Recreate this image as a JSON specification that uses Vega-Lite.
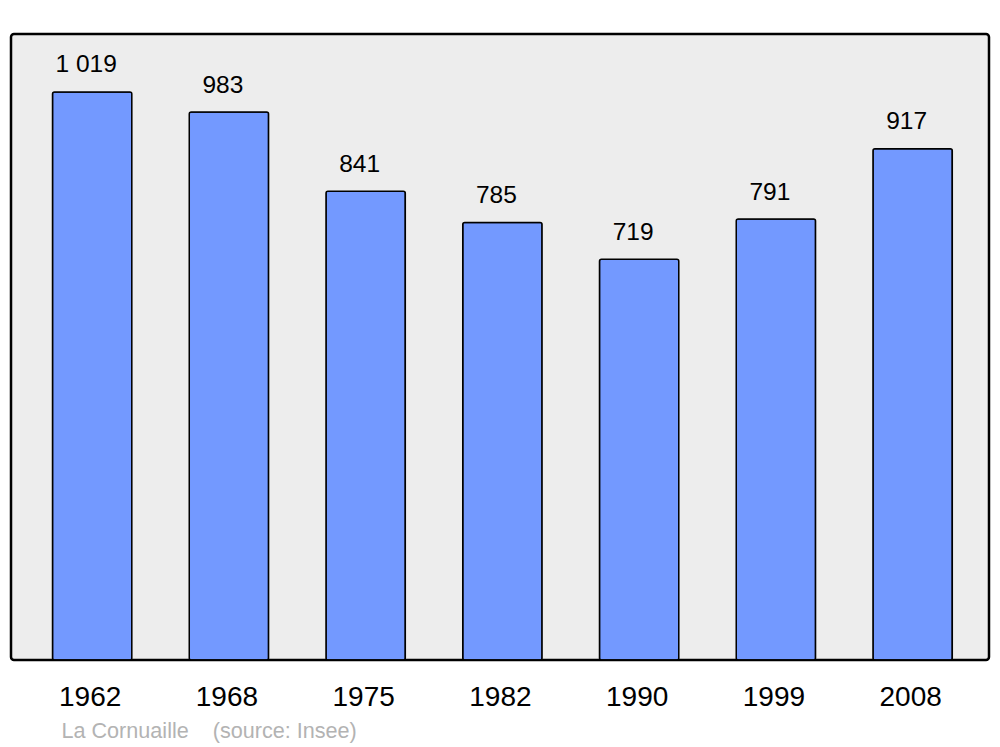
{
  "$schema": "https://vega.github.io/schema/vega-lite/v6.json",
  "autosize": "none",
  "width": 978,
  "height": 626,
  "padding": {"left": 11, "top": 34, "right": 11, "bottom": 87},
  "background": "white",
  "config": {
    "font": "Liberation Sans",
    "view": {"fill": "#ededed", "stroke": "black", "strokeWidth": 2.5, "cornerRadius": 3},
    "locale": {"number": {"decimal": ",", "thousands": " ", "grouping": [3], "currency": ["", " €"]}}
  },
  "data": {
    "values": [
      {"year": "1962", "population": 1019},
      {"year": "1968", "population": 983},
      {"year": "1975", "population": 841},
      {"year": "1982", "population": 785},
      {"year": "1990", "population": 719},
      {"year": "1999", "population": 791},
      {"year": "2008", "population": 917}
    ]
  },
  "encoding": {
    "x": {
      "field": "year",
      "type": "nominal",
      "sort": null,
      "scale": {"paddingInner": 0.42, "paddingOuter": 0.286, "range": [2.4, 980.4]},
      "axis": {
        "labelAngle": 0,
        "labelFontSize": 28,
        "labelColor": "black",
        "labelBaseline": "alphabetic",
        "labelPadding": 45,
        "labelOffset": -2,
        "ticks": false,
        "domain": false,
        "title": "La Cornuaille\u00a0\u00a0\u00a0\u00a0(source: Insee)",
        "titleFontSize": 21.6,
        "titleFontWeight": "normal",
        "titleColor": "#b3b3b3",
        "titleAnchor": "start",
        "titleAlign": "left",
        "titleBaseline": "alphabetic",
        "titleX": 50,
        "titleY": 77
      }
    },
    "y": {
      "field": "population",
      "type": "quantitative",
      "scale": {"domain": [0, 1123], "nice": false, "zero": true},
      "axis": null
    }
  },
  "layer": [
    {
      "mark": {"type": "bar", "fill": "#7399ff", "stroke": "black", "strokeWidth": 1.5, "cornerRadius": 2}
    },
    {
      "mark": {"type": "text", "fontSize": 24.5, "color": "black", "baseline": "alphabetic", "dy": -19.5, "dx": -6},
      "encoding": {
        "text": {"field": "population", "type": "quantitative", "format": ",d"}
      }
    }
  ]
}
